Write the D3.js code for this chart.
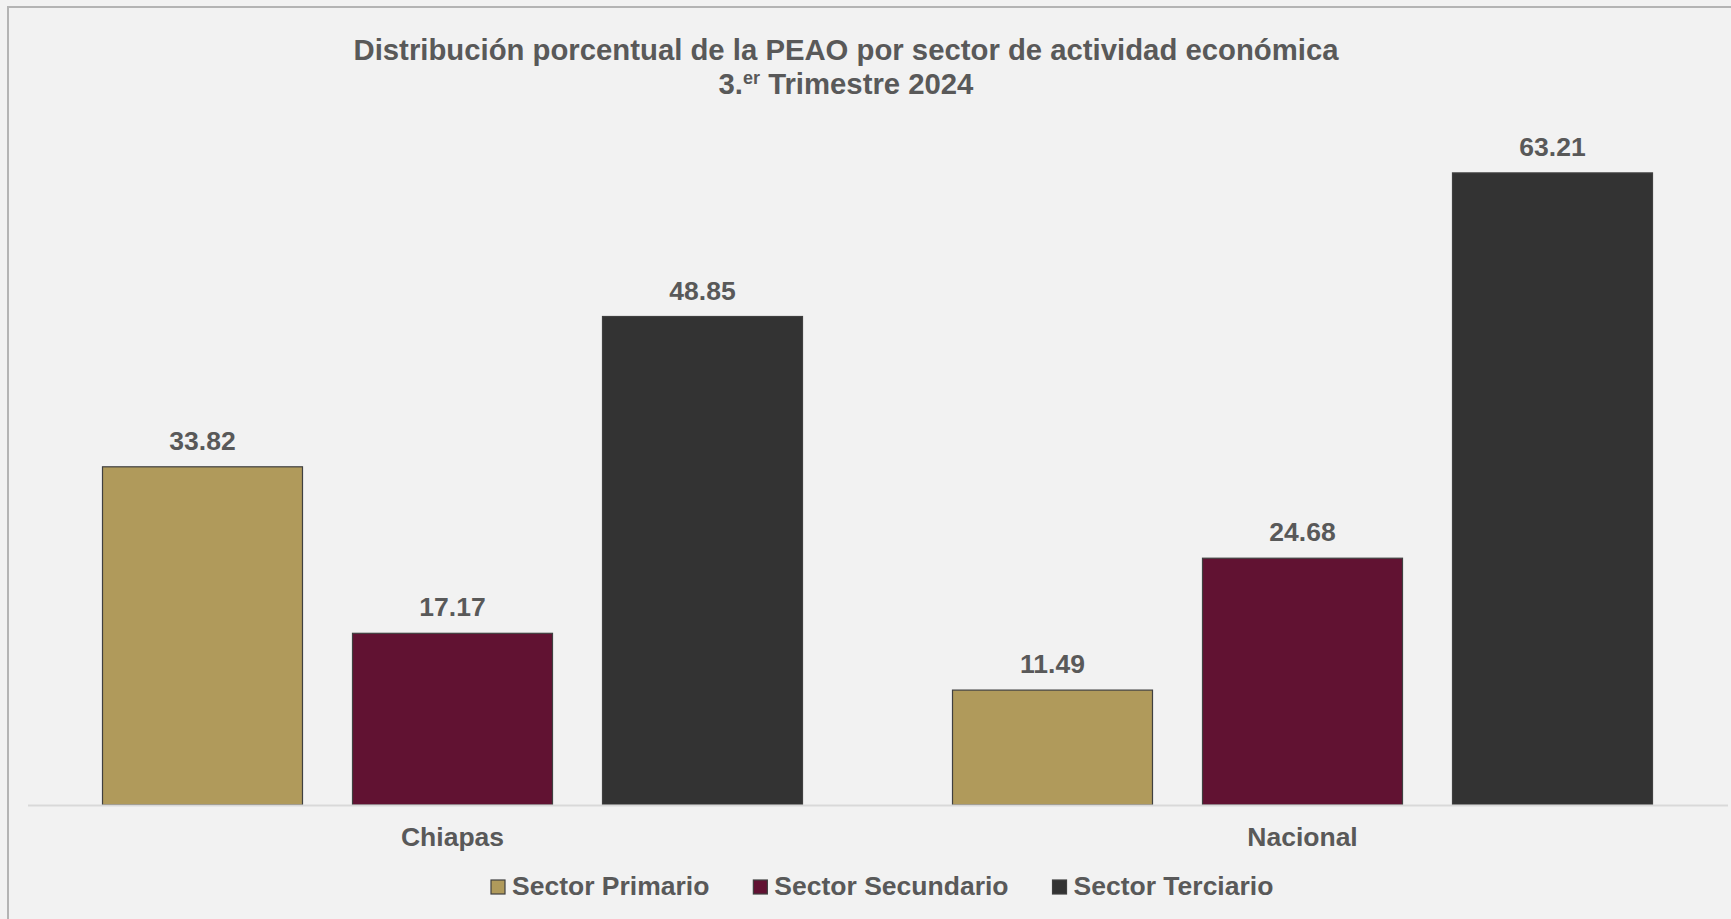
<!DOCTYPE html>
<html>
<head>
<meta charset="utf-8">
<script src="https://cdn.jsdelivr.net/npm/d3@7"></script>
<style>
  html, body { margin: 0; padding: 0; background: #f2f2f2; }
  svg { display: block; }
  text { font-family: "Liberation Sans", Arial, sans-serif; font-weight: bold; fill: #595959; }
</style>
</head>
<body>
<svg id="chart" width="1731" height="919"></svg>
<script>
const categories = ["Chiapas", "Nacional"];
const seriesNames = ["Sector Primario", "Sector Secundario", "Sector Terciario"];
const sectorPrimario = [33.82, 11.49];
const sectorSecundario = [17.17, 24.68];
const sectorTerciario = [48.85, 63.21];
const seriesColors = ["#B09A5B", "#611232", "#333333"];
const titleLine1 = "Distribución porcentual de la PEAO por sector de actividad económica";
const titleLine2 = ["3.", "er", " Trimestre 2024"];

const seriesValues = [sectorPrimario, sectorSecundario, sectorTerciario];
const rows = categories.map((c, i) => ({
  category: c,
  values: seriesNames.map((s, j) => ({ series: s, idx: j, value: seriesValues[j][i] }))
}));

const W = 1731, H = 919;
const svg = d3.select("#chart");

svg.append("rect").attr("x", 0).attr("y", 0).attr("width", W).attr("height", H).attr("fill", "#f2f2f2");
// outer border
svg.append("rect").attr("x", 8).attr("y", 7).attr("width", W + 10).attr("height", H + 10)
  .attr("fill", "none").attr("stroke", "#b4b4b4").attr("stroke-width", 2);

const x0 = d3.scaleBand().domain(categories).range([27.5, 1727.5]).paddingInner(0).paddingOuter(0);
const x1 = d3.scaleBand().domain(seriesNames).range([0, x0.bandwidth()]).paddingInner(0.2).paddingOuter(0.3);
const y = d3.scaleLinear().domain([0, 70]).range([805, 105]);

// title
svg.append("text").attr("text-anchor", "middle").attr("x", 846).attr("y", 60)
  .style("font-size", "29.3px").text(titleLine1);
const t2 = svg.append("text").attr("text-anchor", "middle").attr("x", 846).attr("y", 94)
  .style("font-size", "29.3px");
t2.append("tspan").text(titleLine2[0]);
t2.append("tspan").attr("dy", -10).style("font-size", "18px").text(titleLine2[1]);
t2.append("tspan").attr("dy", 10).text(titleLine2[2]);

// bars
const groups = svg.append("g").selectAll("g").data(rows).join("g")
  .attr("transform", d => `translate(${x0(d.category)},0)`);

groups.selectAll("rect").data(d => d.values).join("rect")
  .attr("x", d => x1(d.series))
  .attr("y", d => y(d.value))
  .attr("width", x1.bandwidth())
  .attr("height", d => y(0) - y(d.value))
  .attr("fill", d => seriesColors[d.idx])
  .attr("stroke", "#404040")
  .attr("stroke-width", 1.2);

groups.selectAll("text.val").data(d => d.values).join("text")
  .attr("class", "val")
  .attr("text-anchor", "middle")
  .attr("x", d => x1(d.series) + x1.bandwidth() / 2)
  .attr("y", d => y(d.value) - 17)
  .style("font-size", "26.5px")
  .text(d => d.value.toFixed(2));

// axis
const xAxis = d3.axisBottom(x0).tickSize(0).tickPadding(0);
const ax = svg.append("g").attr("transform", `translate(0,${y(0)})`).call(xAxis);
ax.select(".domain").attr("stroke", "#d9d9d9").attr("stroke-width", 2);
ax.selectAll(".tick text").attr("dy", 0).attr("y", 41)
  .style("font-size", "26.5px").style("font-family", "'Liberation Sans', Arial, sans-serif")
  .style("font-weight", "bold").attr("fill", "#595959");

// legend
const legend = svg.append("g");
const items = legend.selectAll("g").data(seriesNames).join("g");
items.append("rect").attr("width", 14).attr("height", 14).attr("y", 880)
  .attr("fill", (d, i) => seriesColors[i]).attr("stroke", "#404040").attr("stroke-width", 1.2);
items.append("text").attr("y", 895).style("font-size", "26.5px").text(d => d);
let cx = 491;
items.each(function () {
  const g = d3.select(this);
  const w = g.select("text").node().getComputedTextLength();
  g.select("rect").attr("x", cx);
  g.select("text").attr("x", cx + 21);
  cx += 21 + w + 44;
});
</script>
</body>
</html>
